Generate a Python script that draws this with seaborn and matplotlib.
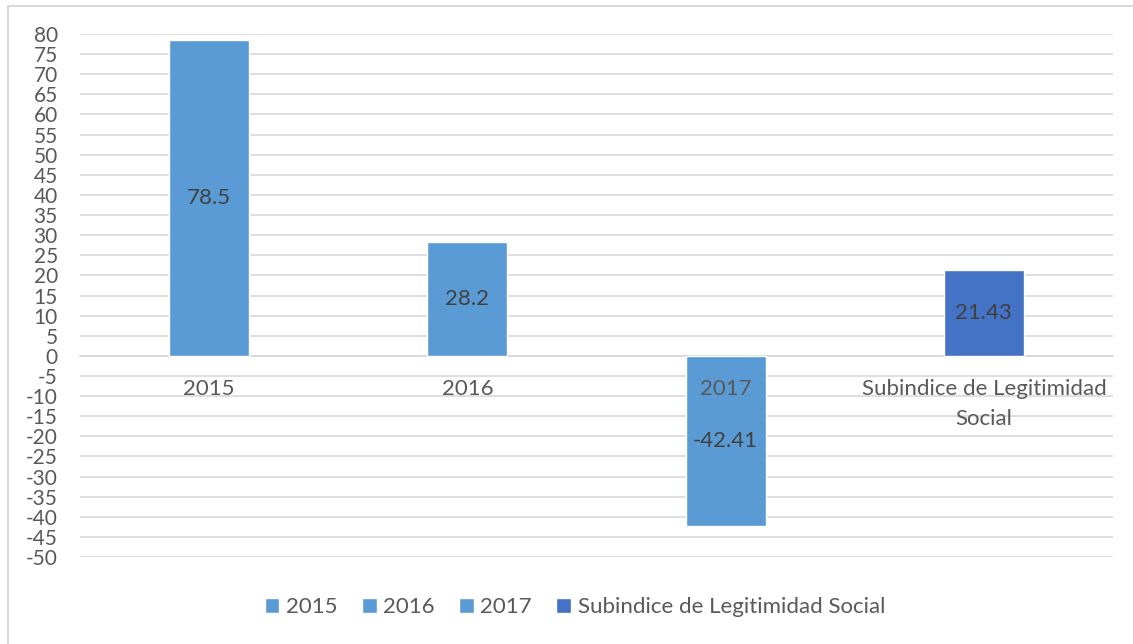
import matplotlib
matplotlib.use("Agg")
import matplotlib.pyplot as plt
import seaborn as sns
import pandas as pd
from matplotlib.patches import Rectangle

categories = ["2015", "2016", "2017", "Subindice de Legitimidad Social"]
tick_labels = ["2015", "2016", "2017", "Subindice de Legitimidad\nSocial"]
values = [78.5, 28.2, -42.41, 21.43]
colors = ["#5B9BD5", "#5B9BD5", "#5B9BD5", "#4472C4"]

df = pd.DataFrame({"categoria": categories, "valor": values})

sns.set_theme(style="white")
plt.rcParams["font.family"] = ["Lato", "DejaVu Sans"]
plt.rcParams["axes.unicode_minus"] = False
text_color = "#595959"
grid_color = "#D9D9D9"

fig = plt.figure(figsize=(11.33, 6.44), dpi=100)
ax = fig.add_axes([80 / 1133, 1 - 557 / 644, (1113 - 80) / 1133, (557 - 34) / 644])

sns.barplot(data=df, x="categoria", y="valor", hue="categoria",
            palette=colors, dodge=False, width=0.31, saturation=1,
            legend=True, ax=ax)

ax.set_ylim(-50, 80)
ax.set_yticks(range(-50, 81, 5))
ax.set_xlim(-0.5, len(categories) - 0.5)
ax.set_xticks(range(len(categories)))
ax.set_xticklabels(tick_labels)
ax.set_xlabel("")
ax.set_ylabel("")

ax.grid(axis="y", color=grid_color, linewidth=1.2)
ax.set_axisbelow(True)
# category labels sit on top of the bars, gridlines stay behind them
ax.xaxis.set_zorder(3)
for side in ["top", "right", "left"]:
    ax.spines[side].set_visible(False)
ax.spines["bottom"].set_position(("data", 0))
ax.spines["bottom"].set_color(grid_color)
ax.spines["bottom"].set_linewidth(1.2)
ax.spines["bottom"].set_zorder(0.6)
ax.tick_params(axis="both", length=0, colors=text_color)
ax.tick_params(axis="y", pad=16, labelsize=15)
ax.tick_params(axis="x", pad=17, labelsize=16)

for container in ax.containers:
    ax.bar_label(container, fmt="%g", label_type="center",
                 fontsize=16, color="#404040")

handles, labels = ax.get_legend_handles_labels()
ax.legend(handles, labels, loc="center", bbox_to_anchor=(575 / 1133, 1 - 607 / 644),
          bbox_transform=fig.transFigure, ncol=4, frameon=False,
          fontsize=16, labelcolor=text_color, handlelength=0.65,
          handleheight=0.65, handletextpad=0.3, columnspacing=1.1)

fig.patches.append(Rectangle((8 / 1133, -0.1), 1.2, 1 - 6 / 644 + 0.1,
                             transform=fig.transFigure, fill=False,
                             edgecolor="#D9D9D9", linewidth=1.5))

for lab in ax.get_xticklabels():
    lab.set_linespacing(1.6)

fig.savefig("out.png", dpi=100)
